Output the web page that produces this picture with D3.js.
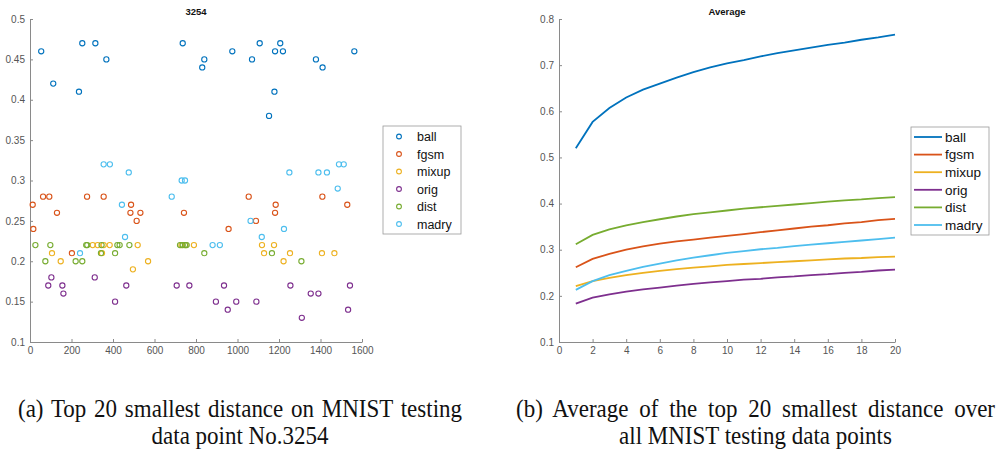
<!DOCTYPE html>
<html>
<head>
<meta charset="utf-8">
<script src="https://cdn.jsdelivr.net/npm/d3@7"></script>
<style>
  body { margin: 0; background: #fff; }
  svg { display: block; }
  .tick text { font-family: "Liberation Sans", Helvetica, Arial, sans-serif; font-size: 10px; fill: #555; }
  .ttl { font-family: "Liberation Sans", Helvetica, Arial, sans-serif; font-weight: bold; font-size: 9.5px; fill: #111; }
  .leg { font-family: "Liberation Sans", Helvetica, Arial, sans-serif; fill: #111; }
  .cap { font-family: "Liberation Serif", "Times New Roman", serif; font-size: 23px; fill: #111; }
</style>
</head>
<body>
<svg id="chart" width="997" height="450"></svg>
<script>
// series names + matlab colours
var series = ['ball', 'fgsm', 'mixup', 'orig', 'dist', 'madry']
var colors = ['#0072BD', '#D95319', '#EDB120', '#7E2F8E', '#77AC30', '#4DBEEE']

// (a) data point No.3254 : [index, distance]
var ballPts = [[54,.46],[112,.42],[236,.41],[252,.47],[315,.47],[368,.45],[736,.47],[830,.44],[840,.45],[975,.46],
  [1070,.45],[1107,.47],[1152,.38],[1178,.41],[1181,.46],[1206,.47],[1219,.46],[1378,.45],[1410,.44],[1563,.46]]
var fgsmPts = [[13,.27],[16,.24],[63,.28],[93,.28],[130,.26],[202,.21],[275,.28],[355,.28],[487,.27],[484,.26],
  [532,.26],[514,.25],[742,.26],[1054,.28],[1184,.27],[1181,.26],[1089,.25],[957,.24],[1409,.28],[1529,.27]]
var mixupPts = [[106,.21],[148,.20],[302,.22],[326,.22],[347,.21],[355,.22],[384,.22],[496,.19],[519,.22],[569,.20],
  [730,.22],[750,.22],[790,.22],[1118,.22],[1128,.21],[1176,.22],[1222,.20],[1253,.21],[1407,.21],[1467,.21]]
var origPts = [[88,.17],[103,.18],[156,.17],[161,.16],[312,.18],[410,.15],[464,.17],[707,.17],[768,.17],[896,.15],
  [935,.17],[953,.14],[994,.15],[1091,.15],[1255,.17],[1310,.13],[1353,.16],[1390,.16],[1533,.14],[1542,.17]]
var distPts = [[26,.22],[74,.20],[98,.22],[220,.20],[252,.20],[271,.22],[276,.22],[342,.21],[345,.22],[410,.21],
  [421,.22],[432,.22],[479,.22],[723,.22],[736,.22],[747,.22],[755,.22],[840,.21],[1166,.21],[1308,.20]]
var madryPts = [[241,.21],[355,.32],[385,.32],[443,.27],[458,.23],[476,.31],[683,.28],[731,.30],[747,.30],[880,.22],
  [915,.22],[1063,.25],[1117,.23],[1224,.24],[1250,.31],[1390,.31],[1431,.31],[1483,.29],[1489,.32],[1512,.32]]

// (b) average over all points, k = 1..20
var kVals = d3.range(1, 21)
var ballAvg = [0.520,0.577,0.607,0.630,0.647,0.660,0.673,0.685,0.695,0.704,0.711,0.719,0.726,0.732,0.738,0.744,0.749,0.755,0.760,0.766]
var fgsmAvg = [0.262,0.280,0.291,0.300,0.307,0.313,0.318,0.322,0.326,0.330,0.334,0.338,0.342,0.346,0.350,0.353,0.357,0.360,0.364,0.367]
var mixupAvg = [0.221,0.232,0.239,0.245,0.250,0.254,0.258,0.261,0.264,0.267,0.269,0.271,0.273,0.275,0.277,0.279,0.281,0.282,0.284,0.285]
var origAvg = [0.183,0.196,0.203,0.209,0.214,0.218,0.222,0.226,0.229,0.232,0.235,0.237,0.240,0.242,0.245,0.247,0.250,0.252,0.255,0.257]
var distAvg = [0.312,0.332,0.344,0.353,0.360,0.366,0.372,0.377,0.381,0.385,0.389,0.392,0.395,0.398,0.401,0.404,0.407,0.409,0.412,0.414]
var madryAvg = [0.213,0.232,0.245,0.254,0.263,0.270,0.277,0.283,0.288,0.293,0.297,0.301,0.304,0.308,0.311,0.314,0.317,0.320,0.323,0.326]

var leftX = [0,200,400,600,800,1000,1200,1400,1600]
var leftY = [0.1,0.15,0.2,0.25,0.3,0.35,0.4,0.45,0.5]
var rightX = [0,2,4,6,8,10,12,14,16,18,20]
var rightY = [0.1,0.2,0.3,0.4,0.5,0.6,0.7,0.8]

var scatterSets = [ballPts, fgsmPts, mixupPts, origPts, distPts, madryPts]
var lineSets = [ballAvg, fgsmAvg, mixupAvg, origAvg, distAvg, madryAvg]

var svg = d3.select('#chart')
var axisGrey = '#8a8a8a'

function styleAxis(g){
  g.select('.domain').attr('stroke', axisGrey)
  g.selectAll('.tick line').attr('stroke', axisGrey)
}

// ---------- (a) scatter ----------
var ax = d3.scaleLinear().domain([0, 1600]).range([30, 362])
var ay = d3.scaleLinear().domain([0.1, 0.5]).range([342, 19])

svg.append('g').attr('transform', 'translate(0,342)')
  .call(d3.axisBottom(ax).tickValues(leftX).tickSize(-3).tickSizeOuter(0).tickPadding(5)
    .tickFormat(d3.format('d')))
  .call(styleAxis)
svg.append('g').attr('transform', 'translate(30,0)')
  .call(d3.axisLeft(ay).tickValues(leftY).tickSize(-3).tickSizeOuter(0).tickPadding(5)
    .tickFormat(function(d){ return String(+d.toFixed(2)) }))
  .call(styleAxis)

svg.append('text').attr('class', 'ttl').attr('x', (30 + 362) / 2).attr('y', 15)
  .attr('text-anchor', 'middle').text('3254')

scatterSets.forEach(function(pts, i){
  svg.append('g').selectAll('circle').data(pts).enter()
    .append('circle')
    .attr('cx', function(d){ return ax(d[0]) })
    .attr('cy', function(d){ return ay(d[1]) })
    .attr('r', 2.6)
    .attr('fill', 'none')
    .attr('stroke', colors[i])
    .attr('stroke-width', 1.1)
})

// legend (a)
var legA = svg.append('g').attr('transform', 'translate(383,126)')
legA.append('rect').attr('width', 78).attr('height', 108)
  .attr('fill', '#fff').attr('stroke', '#999').attr('stroke-width', 0.8)
series.forEach(function(s, i){
  var yy = 10.5 + i * 17.5
  legA.append('circle').attr('cx', 16).attr('cy', yy).attr('r', 2.4)
    .attr('fill', 'none').attr('stroke', colors[i]).attr('stroke-width', 1.1)
  legA.append('text').attr('class', 'leg').attr('x', 34).attr('y', yy + 4.5)
    .style('font-size', '12.5px').text(s)
})

// ---------- (b) lines ----------
var bx = d3.scaleLinear().domain([0, 20]).range([559, 895])
var by = d3.scaleLinear().domain([0.1, 0.8]).range([342, 19])

svg.append('g').attr('transform', 'translate(0,342)')
  .call(d3.axisBottom(bx).tickValues(rightX).tickSize(-3).tickSizeOuter(0).tickPadding(5))
  .call(styleAxis)
svg.append('g').attr('transform', 'translate(559,0)')
  .call(d3.axisLeft(by).tickValues(rightY).tickSize(-3).tickSizeOuter(0).tickPadding(5)
    .tickFormat(d3.format('.1f')))
  .call(styleAxis)

svg.append('text').attr('class', 'ttl').attr('x', (559 + 895) / 2).attr('y', 15)
  .attr('text-anchor', 'middle').text('Average')

var line = d3.line()
  .x(function(d, i){ return bx(kVals[i]) })
  .y(function(d){ return by(d) })

lineSets.forEach(function(vals, i){
  svg.append('path').datum(vals)
    .attr('d', line)
    .attr('fill', 'none')
    .attr('stroke', colors[i])
    .attr('stroke-width', 1.8)
})

// legend (b)
var legB = svg.append('g').attr('transform', 'translate(911,127)')
legB.append('rect').attr('width', 78).attr('height', 108)
  .attr('fill', '#fff').attr('stroke', '#999').attr('stroke-width', 0.8)
series.forEach(function(s, i){
  var yy = 10 + i * 17.6
  legB.append('line').attr('x1', 3).attr('x2', 31).attr('y1', yy).attr('y2', yy)
    .attr('stroke', colors[i]).attr('stroke-width', 1.8)
  legB.append('text').attr('class', 'leg').attr('x', 34).attr('y', yy + 4.8)
    .style('font-size', '13.5px').text(s)
})

// ---------- captions ----------
// first line of each caption is justified (latex), second is centred
var capA = ['(a) Top 20 smallest distance on MNIST testing', 'data point No.3254']
var capB = ['(b) Average of the top 20 smallest distance over', 'all MNIST testing data points']

function caption(lines, cx, left, right){
  lines.forEach(function(t, i){
    var g = svg.append('g').attr('transform', 'translate(' + cx + ',' + (417 + i * 27) + ') scale(1,1.08)')
    var txt = g.append('text').attr('class', 'cap').attr('x', 0).attr('y', 0)
      .attr('text-anchor', 'middle').text(t)
    if (i == 0) {
      var w = txt.node().getComputedTextLength()
      var gaps = t.split(' ').length - 1
      var extra = (right - left) - w
      if (extra > 0) txt.style('word-spacing', (extra / gaps) + 'px')
    }
  })
}
caption(capA, 240, 18, 462)
caption(capB, 755.5, 516, 995)
</script>
</body>
</html>
